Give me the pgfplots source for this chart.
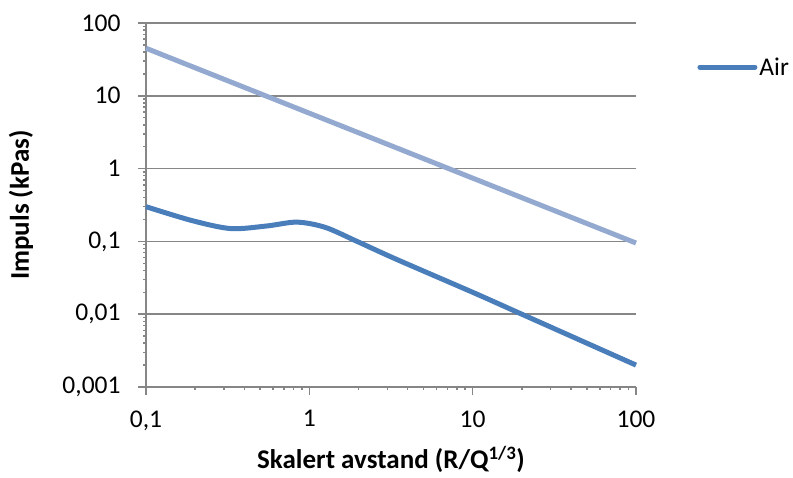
\documentclass[border=0pt]{standalone}
\usepackage{pgfplots}
\pgfplotsset{compat=1.18}
\usepackage{fontspec}
\setmainfont{Carlito}
\definecolor{darkb}{HTML}{4A7EBB}
\definecolor{lightb}{HTML}{93A9CF}
\definecolor{gridg}{HTML}{868686}
\begin{document}
\begin{tikzpicture}
\begin{axis}[
  scale only axis, width=490pt, height=364pt,
  xmode=log, ymode=log,
  xmin=0.1, xmax=100, ymin=0.001, ymax=100,
  xtick={0.1,1,10,100}, xticklabels={{0,1},1,10,100},
  ytick={0.001,0.01,0.1,1,10,100}, yticklabels={{0,001},{0,01},{0,1},1,10,100},
  minor xtick={}, minor ytick={},
  axis x line*=bottom, axis y line*=left,
  axis line style={gridg, line width=1.5pt, -},
  ymajorgrids, xmajorgrids=false,
  grid style={gridg, line width=1.5pt},
  major grid style={gridg, line width=1.5pt},
  tick style={gridg, line width=1.5pt},
  major tick length=8pt, tick align=outside,
  ticklabel style={font=\fontsize{25.5}{30}\selectfont, text=black},
  xticklabel style={yshift=-12pt},
  yticklabel style={xshift=-14pt},
  xlabel={\textbf{Skalert avstand (R/Q\textsuperscript{1/3})}},
  ylabel={\textbf{Impuls (kPas)}},
  label style={font=\fontsize{27}{32}\selectfont},
  xlabel style={at={(axis description cs:0.5,-0.2)}, anchor=center},
  ylabel style={at={(axis description cs:-0.255,0.5)}, anchor=center},
  legend style={at={(rel axis cs:1.125,0.879)}, anchor=west, draw=none, fill=none,
    font=\fontsize{25.5}{30}\selectfont, inner sep=0pt},
  legend image code/.code={\draw[#1, line width=5pt, line cap=round] (0pt,0pt) -- (55pt,0pt);},
  clip=false,
]
\coordinate (O) at (rel axis cs:0,0);
\addplot[lightb, line width=5pt, forget plot] coordinates {
  (0.1,45) (1,5.77) (10,0.74) (100,0.095)
};
\addplot[darkb, line width=5pt, smooth, tension=0.5] coordinates {
  (0.1,0.30) (0.19,0.194) (0.33,0.150) (0.55,0.163) (0.84,0.184)
  (1.25,0.156) (1.96,0.100) (3.4,0.057) (10,0.020) (20,0.010)
  (50,0.004) (100,0.0020)
};
\addlegendentry{Air}
\end{axis}
\pgfresetboundingbox
\path[use as bounding box] ([xshift=-146pt,yshift=-90pt]O) rectangle ([xshift=647pt,yshift=387pt]O);
\end{tikzpicture}
\end{document}
